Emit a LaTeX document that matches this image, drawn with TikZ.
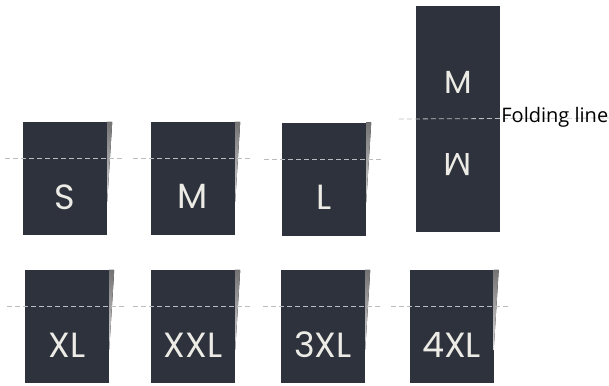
\documentclass[tikz,border=0pt]{standalone}
\usepackage{fontspec}
\setmainfont{Poppins}
\newfontfamily\notefont{Open Sans}
\definecolor{tagfill}{HTML}{2D323C}
\definecolor{tagtext}{HTML}{ECEBE5}
\definecolor{foldgray}{HTML}{BABDC0}

\begin{document}
\begin{tikzpicture}[x=1pt,y=-1pt,
  tag/.style={fill=tagfill,minimum width=84pt,minimum height=113pt,inner sep=0pt},
  tall/.style={tag,minimum height=226pt},
  size/.style={text=tagtext,font=\fontsize{35}{35}\selectfont,inner sep=0pt},
  fold/.style={foldgray,dashed,dash pattern=on 5pt off 3pt,line width=0.8pt},
  crease/.style={top color=black!55,bottom color=black!15,draw=none}]
  \useasboundingbox (0,0) rectangle (609,385);
  % size tags, two rows
  \foreach \nm/\x/\y/\txt in {s/65/178.5/S,m/193/178.5/M,l/324/179/L,
      xl/67/326.5/XL,xxl/193/326.5/XXL,x3/323/326.5/3XL,x4/451.5/326.5/4XL}{
    \node[tag](\nm) at (\x,\y){};
    \fill[crease] (\nm.north east) -- ++(5,0) -- ([yshift=-80pt]\nm.north east) -- cycle;
    \draw[fold] ([xshift=-18pt,yshift=-37pt]\nm.north west) -- ([xshift=16pt,yshift=-37pt]\nm.north east);
    \node[size](\nm-t) at ([yshift=-75pt]\nm.north){\txt};
  }
  % folded M / W tag
  \node[tall](mw) at (458,119){};
  \coordinate(foldend) at (609,118);
  \draw[fold] ([xshift=-17pt]mw.west) -- (foldend);
  \node[size,font=\fontsize{32}{32}\selectfont](mw-m) at ([yshift=-77pt]mw.north){M};
  \node[size,font=\fontsize{32}{32}\selectfont,rotate=180](mw-w) at ([yshift=-159pt]mw.north){M};
  \node[font=\notefont\fontsize{20}{20}\selectfont,anchor=base west,inner sep=0pt](note) at ([xshift=1pt,yshift=-3pt]mw.east){Folding line};
\end{tikzpicture}
\end{document}
